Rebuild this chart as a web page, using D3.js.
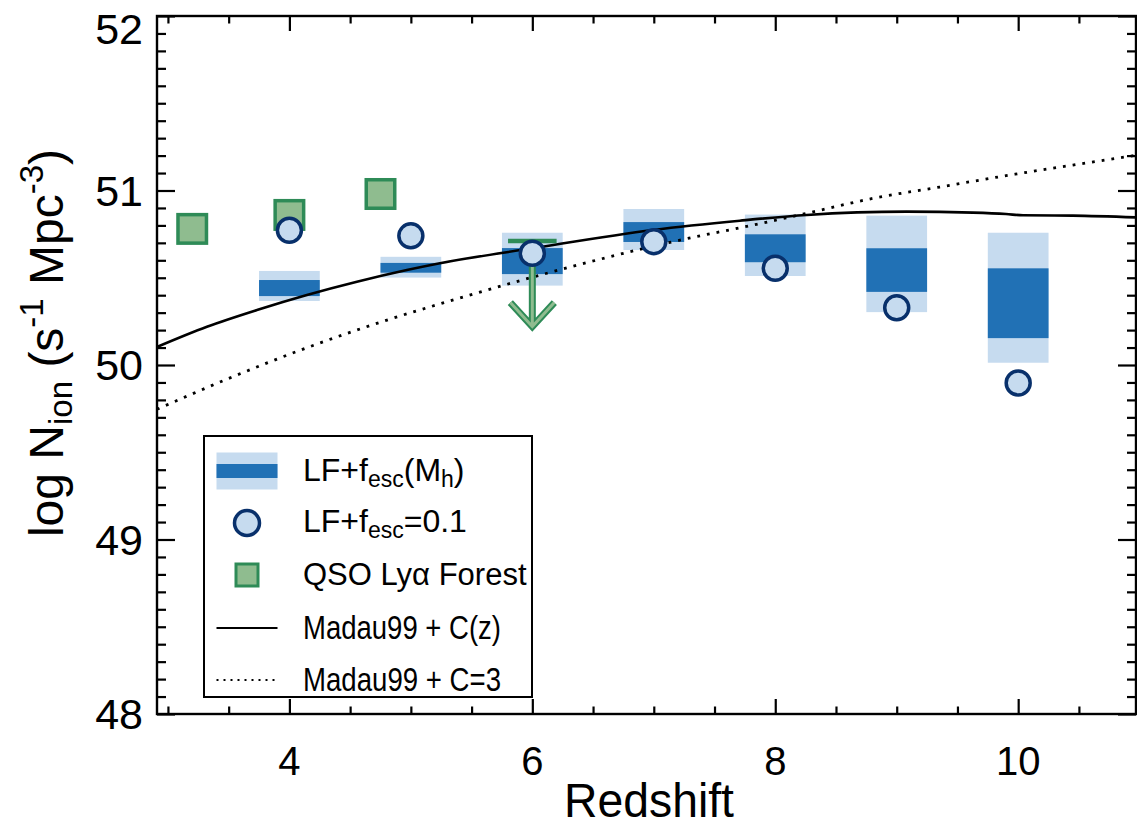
<!DOCTYPE html>
<html>
<head>
<meta charset="utf-8">
<script src="https://cdn.jsdelivr.net/npm/d3@7"></script>
<style>
  body { margin: 0; background: #fff; }
  svg { display: block; font-family: "Liberation Sans", Helvetica, Arial, sans-serif; }
</style>
</head>
<body>
<svg width="1137" height="827"></svg>
<script>
// LF + fesc(Mh) bands (outer = light, inner = dark)
var bandZ       = [4, 5, 6, 7, 8, 9, 10];
var bandOuterLo = [50.367, 50.501, 50.455, 50.659, 50.510, 50.303, 50.013];
var bandOuterHi = [50.539, 50.620, 50.758, 50.894, 50.862, 50.856, 50.758];
var bandInnerLo = [50.395, 50.529, 50.521, 50.705, 50.589, 50.419, 50.154];
var bandInnerHi = [50.487, 50.585, 50.670, 50.819, 50.749, 50.669, 50.554];

// LF + fesc=0.1 circles
var circleZ   = [4, 5, 6, 7, 8, 9, 10];
var circleVal = [50.772, 50.740, 50.640, 50.707, 50.554, 50.328, 49.897];

// QSO Lya forest squares + upper limit
var qsoZ   = [3.2, 4.0, 4.75];
var qsoVal = [50.78, 50.86, 50.98];
var limitZ = [6];
var limitVal = [50.711];
var limitTip = [50.22];

// Madau99 + C(z)
var madauCzZ   = [2.909, 3.321, 3.733, 4.144, 4.556, 4.967, 5.239, 6.0, 6.994, 7.708, 8.259, 9.08, 9.628, 9.90, 10.04, 10.45, 10.97];
var madauCzVal = [50.103, 50.219, 50.315, 50.401, 50.477, 50.544, 50.583, 50.669, 50.774, 50.827, 50.860, 50.879, 50.873, 50.865, 50.858, 50.856, 50.846];

// Madau99 + C=3
var madauC3Z   = [2.909, 3.535, 4.160, 4.797, 5.365, 6.089, 7.159, 7.845, 8.257, 8.805, 9.354, 9.90, 10.45, 10.97];
var madauC3Val = [49.746, 49.933, 50.103, 50.256, 50.376, 50.520, 50.707, 50.806, 50.869, 50.955, 51.020, 51.085, 51.146, 51.202];

var xTickLabels = [4, 6, 8, 10];
var yTickLabels = [48, 49, 50, 51, 52];

var lightBlue = "#c6dbef", darkBlue = "#2171b5", navy = "#08306b";
var dkGreen = "#2e8b57", ltGreen = "#8fbc8f";

var svg = d3.select("svg");
svg.append("rect").attr("width", 1137).attr("height", 827).attr("fill", "#fff");

var x = d3.scaleLinear().domain([2.91, 10.97]).range([157, 1136]);
var y = d3.scaleLinear().domain([48, 52]).range([714, 16]);

svg.append("clipPath").attr("id", "plotclip")
  .append("rect").attr("x", 157).attr("y", 16).attr("width", 979).attr("height", 698);
var plot = svg.append("g").attr("clip-path", "url(#plotclip)");

// bands
var half = 0.25;
plot.selectAll(".outer").data(bandZ).enter().append("rect")
  .attr("x", d => x(d - half))
  .attr("width", d => x(d + half) - x(d - half))
  .attr("y", (d, i) => y(bandOuterHi[i]))
  .attr("height", (d, i) => y(bandOuterLo[i]) - y(bandOuterHi[i]))
  .attr("fill", lightBlue);
plot.selectAll(".inner").data(bandZ).enter().append("rect")
  .attr("x", d => x(d - half))
  .attr("width", d => x(d + half) - x(d - half))
  .attr("y", (d, i) => y(bandInnerHi[i]))
  .attr("height", (d, i) => y(bandInnerLo[i]) - y(bandInnerHi[i]))
  .attr("fill", darkBlue);

// curves
var line = d3.line().x(d => x(d[0])).y(d => y(d[1])).curve(d3.curveMonotoneX);
plot.append("path")
  .attr("d", line(madauC3Z.map((z, i) => [z, madauC3Val[i]])))
  .attr("fill", "none").attr("stroke", "#000").attr("stroke-width", 2.8)
  .attr("stroke-dasharray", "2.8,7");
plot.append("path")
  .attr("d", line(madauCzZ.map((z, i) => [z, madauCzVal[i]])))
  .attr("fill", "none").attr("stroke", "#000").attr("stroke-width", 2.6);

// QSO squares
var sq = 28.5;
plot.selectAll(".qso").data(qsoZ).enter().append("rect")
  .attr("x", d => x(d) - sq / 2)
  .attr("y", (d, i) => y(qsoVal[i]) - sq / 2)
  .attr("width", sq).attr("height", sq)
  .attr("fill", ltGreen).attr("stroke", dkGreen).attr("stroke-width", 3.5);

// upper limit: bar + arrow
limitZ.forEach(function (z, i) {
  plot.append("line")
    .attr("x1", x(z - 0.2)).attr("x2", x(z + 0.2))
    .attr("y1", y(limitVal[i])).attr("y2", y(limitVal[i]))
    .attr("stroke", dkGreen).attr("stroke-width", 4.5);
  var cx = x(z), tip = y(limitTip[i]);
  var arrow = "M" + cx + "," + y(limitVal[i]) + "L" + cx + "," + tip +
              "M" + (cx - 22) + "," + (tip - 24) + "L" + cx + "," + tip + "L" + (cx + 22) + "," + (tip - 24);
  plot.append("path").attr("d", arrow).attr("fill", "none")
    .attr("stroke", dkGreen).attr("stroke-width", 7).attr("stroke-linejoin", "miter");
  plot.append("path").attr("d", arrow).attr("fill", "none")
    .attr("stroke", ltGreen).attr("stroke-width", 3).attr("stroke-linejoin", "miter");
});

// circles
plot.selectAll(".circ").data(circleZ).enter().append("circle")
  .attr("cx", d => x(d))
  .attr("cy", (d, i) => y(circleVal[i]))
  .attr("r", 12)
  .attr("fill", lightBlue).attr("stroke", navy).attr("stroke-width", 3.5);

// axes: ticks only, pointing inward
var xMajor = xTickLabels;
var xMinor = d3.range(3, 11, 0.5).filter(v => xMajor.indexOf(v) < 0);
var yMajor = yTickLabels;
var yMinor = d3.range(480, 521).map(v => v / 10).filter(v => v % 1 !== 0);

function ticks(axis, vals, size, tr) {
  var g = svg.append("g").attr("transform", tr)
    .call(axis.tickValues(vals).tickSize(-size).tickSizeOuter(0).tickFormat(""));
  g.select(".domain").remove();
  g.selectAll("line").attr("stroke", "#000").attr("stroke-width", 2.2);
}
ticks(d3.axisBottom(x), xMajor, 15, "translate(0,714)");
ticks(d3.axisBottom(x), xMinor, 7.5, "translate(0,714)");
ticks(d3.axisTop(x), xMajor, 15, "translate(0,16)");
ticks(d3.axisTop(x), xMinor, 7.5, "translate(0,16)");
ticks(d3.axisLeft(y), yMajor, 18, "translate(157,0)");
ticks(d3.axisLeft(y), yMinor, 9, "translate(157,0)");
ticks(d3.axisRight(y), yMajor, 18, "translate(1136,0)");
ticks(d3.axisRight(y), yMinor, 9, "translate(1136,0)");

svg.append("rect").attr("x", 157).attr("y", 16).attr("width", 979).attr("height", 698)
  .attr("fill", "none").attr("stroke", "#000").attr("stroke-width", 2.4);

// tick labels
svg.selectAll(".xl").data(xTickLabels).enter().append("text")
  .attr("x", d => x(d)).attr("y", 775)
  .attr("text-anchor", "middle").attr("font-size", 40)
  .text(d => d);
svg.selectAll(".yl").data(yTickLabels).enter().append("text")
  .attr("x", 143).attr("y", d => Math.max(y(d) + 15, 44))
  .attr("text-anchor", "end").attr("font-size", 43)
  .text(d => d);

// axis titles
svg.append("text").attr("x", 649).attr("y", 817).attr("text-anchor", "middle")
  .attr("font-size", 49).attr("textLength", 170).attr("lengthAdjust", "spacingAndGlyphs")
  .text("Redshift");

var yt = svg.append("text").attr("transform", "translate(63,343) rotate(-90)")
  .attr("text-anchor", "middle").attr("font-size", 48);
yt.append("tspan").text("log N");
yt.append("tspan").attr("font-size", 33).attr("dy", 9).text("ion");
yt.append("tspan").attr("dy", -9).text(" (s");
yt.append("tspan").attr("font-size", 33).attr("dy", -20).text("-1");
yt.append("tspan").attr("dy", 20).text(" Mpc");
yt.append("tspan").attr("font-size", 33).attr("dy", -20).text("-3");
yt.append("tspan").attr("dy", 20).text(")");

// legend
var leg = svg.append("g");
leg.append("rect").attr("x", 204).attr("y", 436).attr("width", 328).attr("height", 261)
  .attr("fill", "#fff").attr("stroke", "#000").attr("stroke-width", 2);
var rowY = [471, 523, 575, 628, 680];
var symX = 247, txtX = 303;

leg.append("rect").attr("x", symX - 30.5).attr("y", rowY[0] - 18.5).attr("width", 61).attr("height", 37).attr("fill", lightBlue);
leg.append("rect").attr("x", symX - 30.5).attr("y", rowY[0] - 7).attr("width", 61).attr("height", 14).attr("fill", darkBlue);
leg.append("circle").attr("cx", symX).attr("cy", rowY[1]).attr("r", 12.5)
  .attr("fill", lightBlue).attr("stroke", navy).attr("stroke-width", 3.5);
leg.append("rect").attr("x", symX - 11).attr("y", rowY[2] - 11).attr("width", 22).attr("height", 22)
  .attr("fill", ltGreen).attr("stroke", dkGreen).attr("stroke-width", 3);
leg.append("line").attr("x1", symX - 30.5).attr("x2", symX + 30.5).attr("y1", rowY[3]).attr("y2", rowY[3])
  .attr("stroke", "#000").attr("stroke-width", 2);
leg.append("line").attr("x1", symX - 30.5).attr("x2", symX + 30.5).attr("y1", rowY[4]).attr("y2", rowY[4])
  .attr("stroke", "#000").attr("stroke-width", 2).attr("stroke-dasharray", "2,5");

var t1 = leg.append("text").attr("x", txtX).attr("y", rowY[0] + 10).attr("font-size", 32);
t1.append("tspan").text("LF+f");
t1.append("tspan").attr("font-size", 23).attr("dy", 6).text("esc");
t1.append("tspan").attr("dy", -6).text("(M");
t1.append("tspan").attr("font-size", 23).attr("dy", 6).text("h");
t1.append("tspan").attr("dy", -6).text(")");

var t2 = leg.append("text").attr("x", txtX).attr("y", rowY[1] + 9).attr("font-size", 32);
t2.append("tspan").text("LF+f");
t2.append("tspan").attr("font-size", 23).attr("dy", 6).text("esc");
t2.append("tspan").attr("dy", -6).text("=0.1");

leg.append("text").attr("x", txtX).attr("y", rowY[2] + 10).attr("font-size", 31)
  .text("QSO Ly\u03b1 Forest");
leg.append("text").attr("x", txtX).attr("y", rowY[3] + 11).attr("font-size", 34)
  .attr("textLength", 198).attr("lengthAdjust", "spacingAndGlyphs")
  .text("Madau99 + C(z)");
leg.append("text").attr("x", txtX).attr("y", rowY[4] + 11).attr("font-size", 34)
  .attr("textLength", 198).attr("lengthAdjust", "spacingAndGlyphs")
  .text("Madau99 + C=3");
</script>
</body>
</html>
